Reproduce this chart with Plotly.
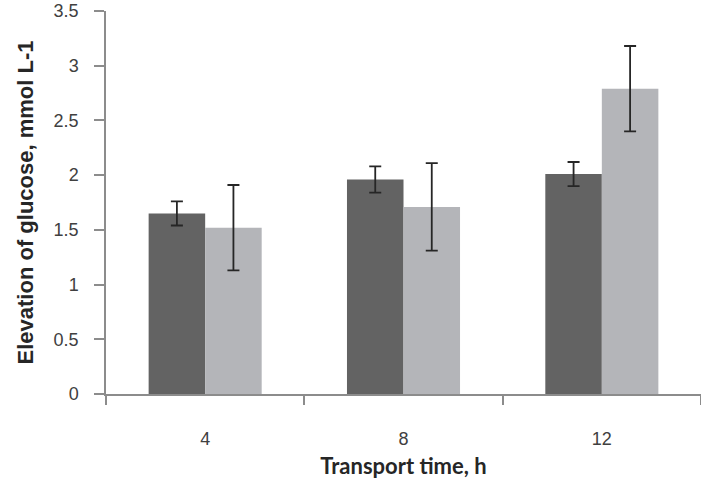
import plotly.graph_objects as go

categories = ["4", "8", "12"]
series_a = [1.65, 1.96, 2.01]
series_a_err = [0.11, 0.12, 0.11]
series_b = [1.52, 1.71, 2.79]
series_b_err = [0.39, 0.40, 0.39]
y_ticks = [0, 0.5, 1, 1.5, 2, 2.5, 3, 3.5]
y_tick_text = ["0", "0.5", "1", "1.5", "2", "2.5", "3", "3.5"]

err_style = dict(type="data", visible=True, color="#262626", thickness=1.8, width=6)

fig = go.Figure()
fig.add_trace(go.Bar(
    x=categories, y=series_a, name="Series 1",
    marker=dict(color="#636363", line=dict(width=0)),
    error_y=dict(array=series_a_err, **err_style),
))
fig.add_trace(go.Bar(
    x=categories, y=series_b, name="Series 2",
    marker=dict(color="#b4b5b9", line=dict(width=0)),
    error_y=dict(array=series_b_err, **err_style),
))

fig.update_layout(
    width=701, height=488,
    margin=dict(l=106, r=0, t=11, b=94),
    paper_bgcolor="white", plot_bgcolor="white",
    barmode="group", bargap=0.43, bargroupgap=0,
    showlegend=False,
    font=dict(family="Arial", color="#404040"),
)
fig.update_xaxes(
    type="category", automargin=False,
    showline=True, linecolor="#8c8c8c", linewidth=1.5,
    ticks="outside", tickson="boundaries", ticklen=9, tickcolor="#8c8c8c", tickwidth=1.5,
    tickfont=dict(family="Arial", size=18, color="#404040"),
    ticklabelstandoff=28,
    showgrid=False, zeroline=False,
    title=dict(text="Transport time, h", standoff=10,
               font=dict(family="Lato", size=22, color="#262626", weight="bold")),
)
fig.update_yaxes(
    range=[0, 3.5], tickvals=y_ticks, ticktext=y_tick_text, automargin=False,
    showline=True, linecolor="#8c8c8c", linewidth=1.5,
    ticks="outside", ticklen=10, tickcolor="#8c8c8c", tickwidth=1.5,
    tickfont=dict(family="Arial", size=18, color="#404040"),
    ticklabelstandoff=12,
    showgrid=False, zeroline=False,
    title=dict(text="Elevation of glucose, mmol L-1", standoff=14,
               font=dict(family="Arial", size=22, color="#262626", weight="bold")),
)

fig.write_html(
    "out.html",
    config={"displayModeBar": False},
    post_script="document.body.style.margin='0';document.body.style.overflow='hidden';",
)
